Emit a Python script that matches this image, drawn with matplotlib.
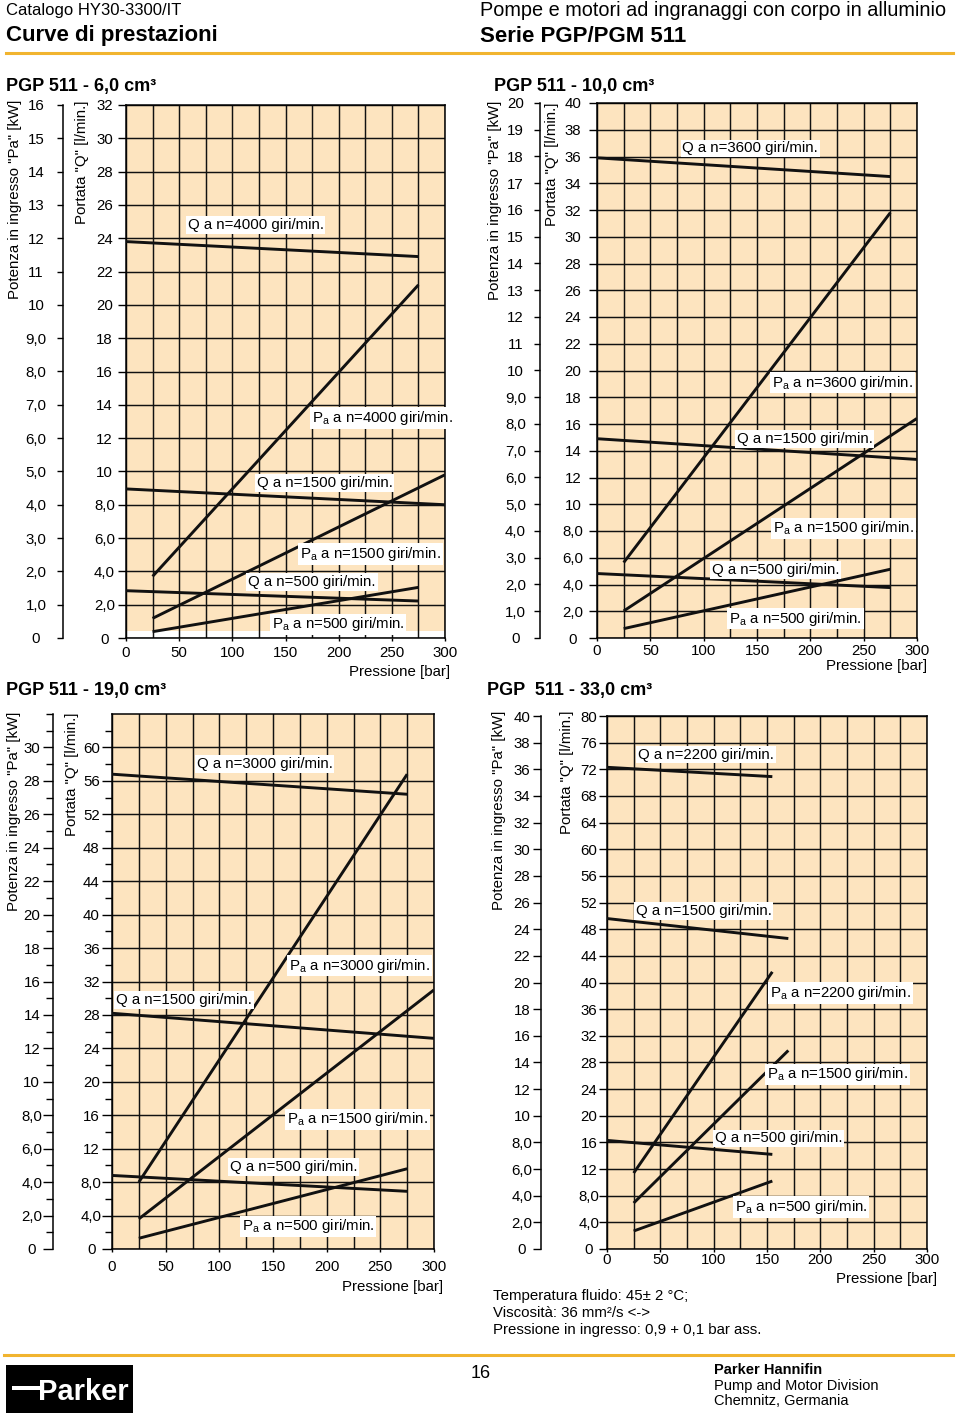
import matplotlib
matplotlib.use('Agg')
import matplotlib.pyplot as plt
from matplotlib.lines import Line2D
from matplotlib.patches import Rectangle

plt.rcParams['font.family'] = ['Liberation Sans', 'DejaVu Sans']
plt.rcParams['mathtext.fontset'] = 'custom'
plt.rcParams['mathtext.rm'] = 'Liberation Sans'
plt.rcParams['mathtext.it'] = 'Liberation Sans:italic'
plt.rcParams['mathtext.bf'] = 'Liberation Sans:bold'

# ---- values ----
pressure_ticks = [0, 50, 100, 150, 200, 250, 300]
pressure_labels = ['0', '50', '100', '150', '200', '250', '300']

# PGP 511 - 6,0 cm3  (Q in l/min, Pa in kW, x in bar)
p6_speeds = ['4000', '1500', '500']
p6_q_x = [[0, 275], [0, 300], [0, 275]]
p6_q = [[23.8, 22.9], [8.95, 8.0], [2.84, 2.22]]
p6_pa_x = [[25, 275], [25, 300], [25, 275]]
p6_pa = [[1.85, 10.6], [0.59, 4.9], [0.19, 1.52]]
p6_q_labels = ['0', '2,0', '4,0', '6,0', '8,0', '10', '12', '14', '16', '18', '20',
               '22', '24', '26', '28', '30', '32']
p6_pa_labels = ['0', '1,0', '2,0', '3,0', '4,0', '5,0', '6,0', '7,0', '8,0', '9,0',
                '10', '11', '12', '13', '14', '15', '16']

# PGP 511 - 10,0 cm3
p10_speeds = ['3600', '1500', '500']
p10_q_x = [[0, 275], [0, 300], [0, 275]]
p10_q = [[35.9, 34.5], [14.9, 13.35], [4.82, 3.77]]
p10_pa_x = [[25, 275], [25, 300], [25, 275]]
p10_pa = [[2.82, 15.9], [1.01, 8.21], [0.35, 2.57]]
p10_q_labels = ['0', '2,0', '4,0', '6,0', '8,0', '10', '12', '14', '16', '18', '20',
                '22', '24', '26', '28', '30', '32', '34', '36', '38', '40']
p10_pa_labels = ['0', '1,0', '2,0', '3,0', '4,0', '5,0', '6,0', '7,0', '8,0', '9,0',
                 '10', '11', '12', '13', '14', '15', '16', '17', '18', '19', '20']

# PGP 511 - 19,0 cm3
p19_speeds = ['3000', '1500', '500']
p19_q_x = [[0, 275], [0, 300], [0, 275]]
p19_q = [[56.8, 54.4], [28.2, 25.2], [8.8, 6.9]]
p19_pa_x = [[25, 275], [25, 300], [25, 275]]
p19_pa = [[4.0, 28.4], [1.8, 15.5], [0.64, 4.8]]
p19_q_labels = ['0', '4,0', '8,0', '12', '16', '20', '24', '28', '32', '36', '40',
                '44', '48', '52', '56', '60']
p19_pa_labels = ['0', '2,0', '4,0', '6,0', '8,0', '10', '12', '14', '16', '18', '20',
                 '22', '24', '26', '28', '30']

# PGP 511 - 33,0 cm3
p33_speeds = ['2200', '1500', '500']
p33_q_x = [[0, 155], [0, 170], [0, 155]]
p33_q = [[72.3, 70.9], [49.6, 46.6], [16.3, 14.2]]
p33_pa_x = [[25, 155], [25, 170], [25, 155]]
p33_pa = [[5.7, 20.8], [3.45, 14.9], [1.35, 5.1]]
p33_q_labels = ['0', '4,0', '8,0', '12', '16', '20', '24', '28', '32', '36', '40',
                '44', '48', '52', '56', '60', '64', '68', '72', '76', '80']
p33_pa_labels = ['0', '2,0', '4,0', '6,0', '8,0', '10', '12', '14', '16', '18', '20',
                 '22', '24', '26', '28', '30', '32', '34', '36', '38', '40']

W, H = 960, 1417
PT = 0.72  # points per pixel at 100 dpi
PEACH = '#fde4bf'
ORANGE = '#f1b42f'
INK = '#111111'
FS = 10.8

fig = plt.figure(figsize=(W / 100, H / 100), dpi=100)
fig.patch.set_facecolor('white')


def ftext(x, y, s, **kw):
    kw.setdefault('fontsize', FS)
    kw.setdefault('va', 'center')
    return fig.text(x / W, 1 - y / H, s, **kw)


def hline(x0, x1, y, **kw):
    fig.add_artist(Line2D([x0 / W, x1 / W], [1 - y / H, 1 - y / H],
                          transform=fig.transFigure, **kw))


def panel(box, q_max, q_step, q_labels, q_minor, pa_step, pa_labels, pa_minor,
          speeds, q_x, q_vals, pa_x, pa_vals, q_pos, pa_pos, lay):
    x0, yt, x1, yb = box
    ax = fig.add_axes([x0 / W, 1 - yb / H, (x1 - x0) / W, (yb - yt) / H])
    ax.set_facecolor(PEACH)
    ax.set_xlim(0, 300)
    ax.set_ylim(0, q_max)
    ax.set_xticks(pressure_ticks)
    ax.set_xticklabels(pressure_labels)
    ax.set_xticks(list(range(0, 301, 25)), minor=True)
    ax.set_yticks([i * q_step for i in range(len(q_labels))])
    ax.set_yticklabels(q_labels, ha='center')
    ax.set_yticks(q_minor, minor=True)
    ax.set_axisbelow(True)
    ax.grid(True, which='major', color=INK, lw=1.05)
    ax.grid(True, which='minor', axis='x', color=INK, lw=1.05)
    ax.tick_params(axis='x', which='major', length=2, width=1, pad=lay['x_pad'] * PT,
                   labelsize=FS)
    ax.tick_params(axis='x', which='minor', length=0)
    ax.tick_params(axis='y', which='major', length=lay['q_len'] * PT, width=1,
                   pad=lay['q_pad'] * PT, labelsize=FS)
    ax.tick_params(axis='y', which='minor', length=lay['minor_len'] * PT, width=1)
    for s in ax.spines.values():
        s.set_linewidth(1.1)
    if lay.get('strip'):
        ax.axhspan(0, lay['strip'], color='white', lw=0, zorder=0.4)

    axp = ax.twinx()
    axp.set_ylim(0, q_max / 2)
    axp.yaxis.tick_left()
    axp.spines['left'].set_position(('outward', lay['pa_off'] * PT))
    axp.spines['left'].set_linewidth(1.1)
    for s in ('right', 'top', 'bottom'):
        axp.spines[s].set_visible(False)
    axp.set_yticks([i * pa_step for i in range(len(pa_labels))])
    axp.set_yticklabels(pa_labels, ha='center')
    axp.set_yticks(pa_minor, minor=True)
    axp.tick_params(axis='y', which='major', length=lay['pa_len'] * PT, width=1,
                    pad=lay['pa_pad'] * PT, labelsize=FS)
    axp.tick_params(axis='y', which='minor', length=lay['minor_len'] * PT, width=1)

    for xs, ys in zip(q_x, q_vals):
        ax.plot(xs, ys, color=INK, lw=2.1, solid_capstyle='butt', zorder=3)
    for xs, ys in zip(pa_x, pa_vals):
        axp.plot(xs, ys, color=INK, lw=2.1, solid_capstyle='butt', zorder=3)

    bb = dict(boxstyle='square,pad=0.12', fc='white', ec='none')
    for sp, (x, y) in zip(speeds, q_pos):
        axp.text(x, y, f'Q a n={sp} giri/min.', transform=ax.transData, fontsize=FS,
                 va='center', ha='left', bbox=bb, zorder=6)
    for sp, (x, y) in zip(speeds, pa_pos):
        axp.text(x, y, r'P$_{\mathrm{a}}$ a n=' + sp + ' giri/min.',
                 transform=ax.transData, fontsize=FS, va='center', ha='left',
                 bbox=bb, zorder=6)
    return ax


# ---- four panels ----
panel((126, 105, 445, 638), 32, 2, p6_q_labels, [], 1, p6_pa_labels, [],
      p6_speeds, p6_q_x, p6_q, p6_pa_x, p6_pa,
      [(58, 24.8), (123, 9.32), (115, 3.38)],
      [(174.6, 13.2), (163.6, 5.04), (137, 0.82)],
      dict(pa_off=63, q_len=8, pa_len=6, minor_len=0, q_pad=13.5, pa_pad=21,
           x_pad=5.6, strip=0.42))

panel((597, 103, 917, 638), 40, 2, p10_q_labels, [], 1, p10_pa_labels, [],
      p10_speeds, p10_q_x, p10_q, p10_pa_x, p10_pa,
      [(80, 36.6), (131, 14.9), (108, 5.07)],
      [(164, 19.1), (165, 8.19), (124, 1.45)],
      dict(pa_off=57.4, q_len=8, pa_len=6, minor_len=0, q_pad=16, pa_pad=18,
           x_pad=3.6))

panel((112, 714, 434, 1249), 64, 4, p19_q_labels, list(range(2, 65, 4)), 2,
      p19_pa_labels, list(range(1, 33, 2)) + [32],
      p19_speeds, p19_q_x, p19_q, p19_pa_x, p19_pa,
      [(79, 58.0), (4, 29.8), (110, 9.8)],
      [(165, 33.9), (163, 15.5), (121, 2.7)],
      dict(pa_off=59, q_len=10, pa_len=10, minor_len=7, q_pad=10.7, pa_pad=11.2,
           x_pad=8.6))

panel((607, 716, 927, 1249), 80, 4, p33_q_labels, [], 2, p33_pa_labels, [],
      p33_speeds, p33_q_x, p33_q, p33_pa_x, p33_pa,
      [(29, 74.2), (27, 50.7), (101, 16.6)],
      [(153, 38.4), (150, 26.2), (120, 6.3)],
      dict(pa_off=66, q_len=8, pa_len=8, minor_len=0, q_pad=10, pa_pad=11,
           x_pad=1.6))

# panel titles
ftext(6, 87, 'PGP 511 - 6,0 cm³', fontsize=13, fontweight='bold')
ftext(494, 87, 'PGP 511 - 10,0 cm³', fontsize=13, fontweight='bold')
ftext(6, 690, 'PGP 511 - 19,0 cm³', fontsize=13, fontweight='bold')
ftext(487, 690, 'PGP  511 - 33,0 cm³', fontsize=13, fontweight='bold')

# axis titles
pa_title = 'Potenza in ingresso "Pa" [kW]'
q_title = 'Portata "Q" [l/min.]'
for (xp, yp, xq, yq) in [(15, 100, 82, 100), (495, 101, 552, 103),
                         (14, 712, 72, 712), (499, 711, 567, 711)]:
    ftext(xp, yp, pa_title, rotation=90, va='top', ha='center')
    ftext(xq, yq, q_title, rotation=90, va='top', ha='center')

# x-axis titles
ftext(450, 672, 'Pressione [bar]', ha='right')
ftext(927, 666, 'Pressione [bar]', ha='right')
ftext(443, 1287, 'Pressione [bar]', ha='right')
ftext(937, 1279, 'Pressione [bar]', ha='right')

# page header
ftext(6, 11, 'Catalogo HY30-3300/IT', fontsize=12)
ftext(6, 36, 'Curve di prestazioni', fontsize=16, fontweight='bold')
ftext(480, 10, 'Pompe e motori ad ingranaggi con corpo in alluminio', fontsize=14.3)
ftext(480, 36, 'Serie PGP/PGM 511', fontsize=16, fontweight='bold')
hline(6, 953, 53, color=ORANGE, lw=2.2)

# notes
ftext(493, 1296, 'Temperatura fluido: 45± 2 °C;')
ftext(493, 1313, 'Viscosità: 36 mm²/s <->')
ftext(493, 1330, 'Pressione in ingresso: 0,9 + 0,1 bar ass.')

# footer
hline(4, 953, 1355, color=ORANGE, lw=2.2)
fig.add_artist(Rectangle((6 / W, 1 - 1413 / H), 127 / W, 48 / H,
                         transform=fig.transFigure, fc='black', ec='none'))
fig.add_artist(Rectangle((12 / W, 1 - 1390 / H), 28 / W, 4 / H,
                         transform=fig.transFigure, fc='white', ec='none'))
ftext(38, 1392, 'Parker', fontsize=21, fontweight='bold', color='white')
ftext(481, 1373, '16', fontsize=13, ha='center')
ftext(714, 1370, 'Parker Hannifin', fontsize=10.5, fontweight='bold')
ftext(714, 1386, 'Pump and Motor Division', fontsize=10.5)
ftext(714, 1401, 'Chemnitz, Germania', fontsize=10.5)

fig.savefig('out.png', dpi=100)
